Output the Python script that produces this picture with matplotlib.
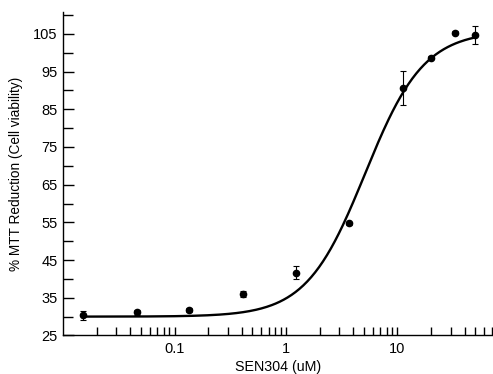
import numpy as np
import matplotlib.pyplot as plt
from matplotlib.ticker import LogLocator, FixedLocator, NullFormatter, FuncFormatter

plt.rcParams['font.family'] = ['Liberation Sans', 'DejaVu Sans']

# measured points: concentration (uM), % MTT reduction, error
conc = [0.015, 0.0456, 0.136, 0.41, 1.22, 3.68, 11.1, 19.9, 33.0, 49.5]
mtt = [30.3, 31.1, 31.7, 36.0, 41.6, 54.8, 90.6, 98.7, 105.3, 104.8]
err = [1.3, 0.6, 0.5, 0.8, 1.7, 0.4, 4.6, 0.4, 0.4, 2.4]

# four-parameter logistic fit
bottom, top, ec50, hill = 30.0, 105.8, 5.12, 1.645

y_major = [25, 35, 45, 55, 65, 75, 85, 95, 105]
y_minor = [30, 40, 50, 60, 70, 80, 90, 100, 110]

fig = plt.figure(figsize=(4.93, 3.74), dpi=100)
ax = fig.add_axes([0.128, 0.103, 0.872, 0.865])

xs = np.logspace(np.log10(0.015), np.log10(50), 300)
ys = bottom + (top - bottom) / (1 + (ec50 / xs) ** hill)
ax.plot(xs, ys, color='black', lw=1.7, zorder=2)

ax.errorbar(conc, mtt, yerr=err, fmt='o', color='black', ms=4.5,
            elinewidth=0.8, capsize=2, capthick=0.8, zorder=3)

ax.set_xscale('log')
ax.set_xlim(0.01, 72)
ax.set_ylim(25, 110.8)

ax.xaxis.set_major_locator(FixedLocator([0.1, 1, 10]))
ax.xaxis.set_major_formatter(FuncFormatter(lambda v, p: '%g' % v))
ax.xaxis.set_minor_locator(LogLocator(base=10, subs=np.arange(2, 10)))
ax.xaxis.set_minor_formatter(NullFormatter())
ax.yaxis.set_major_locator(FixedLocator(y_major))
ax.yaxis.set_minor_locator(FixedLocator(y_minor))

ax.tick_params(axis='both', which='both', direction='in', width=1, color='black')
ax.tick_params(axis='y', which='major', length=8, labelsize=10.5, pad=4)
ax.tick_params(axis='y', which='minor', length=7)
ax.tick_params(axis='x', which='major', length=6, labelsize=10.5, pad=5)
ax.tick_params(axis='x', which='minor', length=6)

for side in ['top', 'right']:
    ax.spines[side].set_visible(False)
for side in ['left', 'bottom']:
    ax.spines[side].set_linewidth(1)

ax.set_xlabel('SEN304 (uM)', fontsize=10.3, labelpad=2.5)
ax.set_ylabel('% MTT Reduction (Cell viability)', fontsize=9.8, labelpad=7)

fig.savefig('out.png', dpi=100)
